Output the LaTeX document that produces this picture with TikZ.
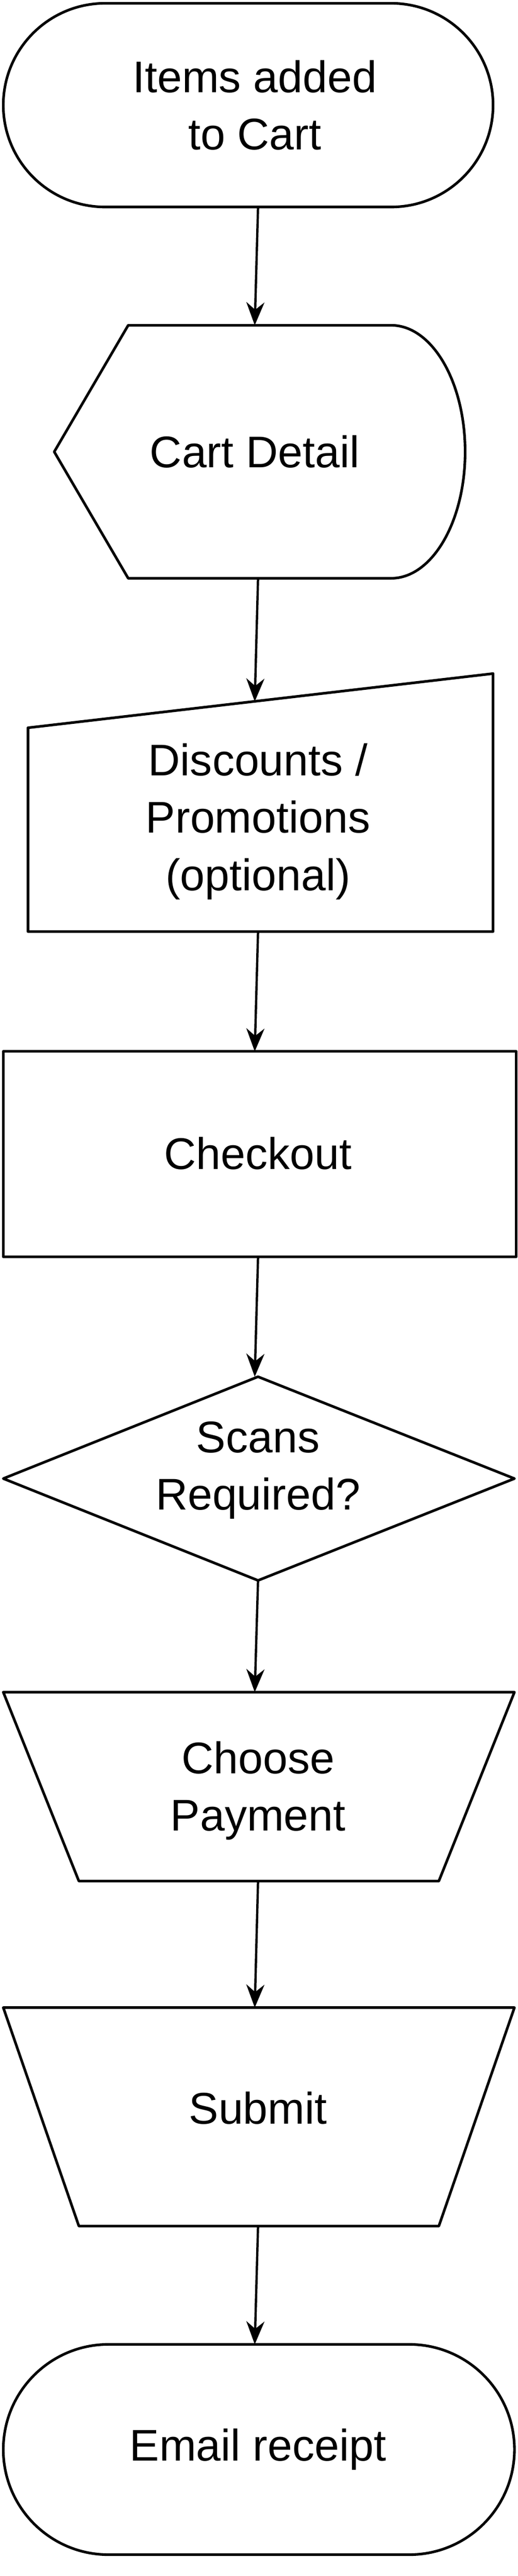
\documentclass[tikz,border=0pt]{standalone}
\usepackage{fontspec}
\setmainfont{Liberation Sans}
\usetikzlibrary{arrows.meta}
\tikzset{
  shp/.style={draw, line width=1.6pt, line join=round},
  lbl/.style={font=\fontsize{27}{35}\selectfont, align=center},
  flow/.style={line width=1.4pt, -{Stealth[length=14pt,width=11pt]}}
}
\begin{document}
\begin{tikzpicture}[x=1pt,y=-1pt]
  \useasboundingbox (0,0) rectangle (315,1568);
  % start
  \draw[shp] (64,2) -- (238,2) arc (-90:90:62) -- (64,126) arc (90:270:62) -- cycle;
  \node[lbl] (start) at (155,64) {Items added\\to Cart};
  % cart detail
  \draw[shp] (33,275) -- (78,198) -- (238,198) arc (-90:90:45 and 77) -- (78,352) -- cycle;
  \node[lbl] (cart) at (155,275) {Cart Detail};
  % discounts
  \draw[shp] (17,443) -- (300,410) -- (300,567) -- (17,567) -- cycle;
  \node[lbl] (disc) at (157,500) {Discounts /\\Promotions\\(optional)};
  % checkout
  \draw[shp] (2,640) rectangle (314,765);
  \node[lbl] (check) at (157,702) {Checkout};
  % decision
  \draw[shp] (157,838) -- (313,900) -- (157,962) -- (2,900) -- cycle;
  \node[lbl] (scan) at (157,895) {Scans\\Required?};
  % payment
  \draw[shp] (2,1030) -- (313,1030) -- (267,1145) -- (48,1145) -- cycle;
  \node[lbl] (pay) at (157,1090) {Choose\\Payment};
  % submit
  \draw[shp] (2,1222) -- (313,1222) -- (267,1355) -- (48,1355) -- cycle;
  \node[lbl] (sub) at (157,1283) {Submit};
  % end
  \draw[shp] (66,1427) -- (249,1427) arc (-90:90:64) -- (66,1555) arc (90:270:64) -- cycle;
  \node[lbl] (mail) at (157,1491) {Email receipt};
  % connectors
  \coordinate (a1) at (157,126); \coordinate (b1) at (155,198);
  \coordinate (a2) at (157,352); \coordinate (b2) at (155,427);
  \coordinate (a3) at (157,567); \coordinate (b3) at (155,640);
  \coordinate (a4) at (157,765); \coordinate (b4) at (155,838);
  \coordinate (a5) at (157,962); \coordinate (b5) at (155,1030);
  \coordinate (a6) at (157,1145); \coordinate (b6) at (155,1222);
  \coordinate (a7) at (157,1355); \coordinate (b7) at (155,1427);
  \foreach \i in {1,...,7} \draw[flow] (a\i) -- (b\i);
\end{tikzpicture}
\end{document}
